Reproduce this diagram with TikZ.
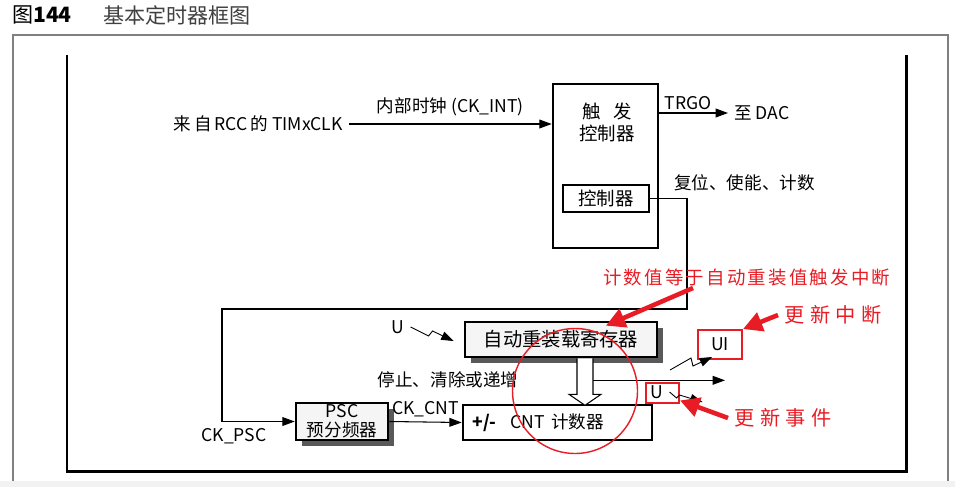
\documentclass[tikz,border=0pt]{standalone}
\usepackage{fontspec}
\setmainfont{Noto Sans CJK SC}
\newfontfamily\hand{Noto Sans CJK SC}[LetterSpace=28]
\newfontfamily\handtight{Noto Sans CJK SC}[LetterSpace=12]
\usetikzlibrary{arrows.meta, positioning, shadows}
\definecolor{noteRed}{RGB}{232,28,36}
\tikzset{
    rim/.style={line width=1.7pt},
    blk/.style={draw, line width=1.5pt, fill=white, inner sep=0pt, align=center},
    shbox/.style={blk, fill=gray!8, drop shadow={shadow xshift=3.2pt, shadow yshift=-3.2pt, fill=black!65, opacity=1}},
    arrow/.style={-{Triangle[length=7pt,width=5pt]}, line width=0.6pt},
    zap/.style={-{Triangle[length=7pt,width=5pt]}, line width=0.5pt},
    note/.style={text=noteRed, font=\hand\fontsize{11.5}{13}\selectfont},
    redarrow/.style={-{Triangle[length=11pt,width=11pt]}, line width=2.6pt, noteRed},
    redbox/.style={draw=noteRed, line width=1.1pt, inner sep=0pt}
}

\begin{document}
\begin{tikzpicture}[x=0.02cm, y=-0.02cm, font=\fontsize{10}{12}\selectfont]
    \useasboundingbox (0,0) rectangle (955,487);
    \fill[gray!10] (0,481) rectangle (955,487);
    % title and frames
    \node[anchor=west, font=\fontsize{12}{14}\selectfont] (fig) at (6,15) {图\textbf{144}};
    \node[anchor=west, font=\fontsize{12}{14}\selectfont, text=black!75] (ttl) at (97,15) {基本定时器框图};
    \draw[gray, line width=0.9pt] (13,481) -- (13,35) -- (948,35) -- (948,481);
    \draw[rim] (67,55) -- (67,471) -- (906,471) -- (906,55);

    \node[blk, minimum width=2.1cm, minimum height=3.28cm] (trig) at (605.5,166) {};
    \node[font=\fontsize{10.5}{12.5}\selectfont, align=center] (trigtxt) at (607,122) {触\hspace{0.7em}发\\控制器};
    \node[blk, minimum width=1.72cm, minimum height=0.54cm, font=\fontsize{10.5}{12}\selectfont] (ctl) at (606,198.5) {控制器};
    \node[shbox, minimum width=3.84cm, minimum height=0.7cm, font=\fontsize{11}{12}\selectfont] (rld) at (561,339.5) {自动重装载寄存器};
    \node[shbox, minimum width=1.84cm, minimum height=0.74cm, font=\fontsize{10}{11}\selectfont] (psc) at (342,421.5) {PSC\\预分频器};
    \node[blk, minimum width=3.78cm, minimum height=0.7cm, text width=3.4cm, align=left, font=\fontsize{10}{12}\selectfont] (cnt) at (557.5,422.5) {\textbf{+/-}\hspace{0.8em}CNT 计数器};

    \node[anchor=east] (src) at (349,124) {来\,自\,RCC\,的 TIMxCLK};
    \draw[arrow] (src.east) -- (src.east -| trig.west) node[midway, above=1pt] {内部时钟 (CK\_INT)};
    \node[anchor=west] (dac) at (728,113) {至 DAC};
    \draw[arrow] (trig.east |- dac) -- (dac.west) node[pos=0.42, above=-2pt] {TRGO};
    \node[anchor=west] (rst) at (668,183) {复位、使能、计数};

    \coordinate (c1) at (687,309);
    \coordinate (c2) at (222,309);
    \draw[arrow] (ctl.east) -| (c1) -- (c2) |- (psc.west);
    \node (ckpsc) at (234,436) {CK\_PSC};
    \draw[arrow] (psc.east) -- (cnt.west) node[midway, above=-1pt] {CK\_CNT};

    \node (u1) at (398,327) {U};
    \draw[zap] (u1.east) -- ++(18,9) -- ++(4,-5) -- ++(21,10);

    % hollow arrow and update line
    \coordinate (hx) at (585,0);
    \path (rld.south -| hx) coordinate (ha);
    \draw[line width=0.6pt, fill=white] (ha) ++(-8,0) -- ++(0,36) -- ++(-8,0) -- ++(16,11) -- ++(16,-11) -- ++(-8,0) -- ++(0,-36);
    \node (stop) at (448,380) {停止、清除或递增};
    \draw[arrow] (ha) ++(8,22) -- ++(132,0) coordinate (uend);

    \node[redbox, minimum width=0.88cm, minimum height=0.58cm] (ui) at (720,344.5) {UI};
    \coordinate (z1) at (670,370);
    \draw[zap] (z1) -- ++(21,-12) -- ++(2,8) -- ++(19,-9);
    \node[redbox, minimum width=0.66cm, minimum height=0.4cm] (u2box) at (662.5,393) {};
    \node (u2) at (657,392) {U};
    \draw[zap] (u2.east) -- ++(7,6) -- ++(3,-3) -- ++(23,7);

    % annotations
    \node[draw=noteRed, circle, minimum size=2.5cm, line width=0.8pt] (ring) at (575,391) {};
    \node[note, anchor=west, font=\handtight\fontsize{10.5}{12}\selectfont] (n1) at (597,277) {计数值等于自动重装值触发中断};
    \node[note, anchor=west] (n2) at (778,315) {更新中断};
    \node[note, anchor=west] (n3) at (728,418) {更新事件};
    \coordinate (t1) at (693,288);
    \draw[redarrow] (t1) -- ([xshift=-1.05cm, yshift=-0.1cm]rld.north east);
    \draw[redarrow] (n2.west) -- (ui.north east);
    \draw[redarrow] (n3.west) -- ([yshift=2pt]u2box.south east);
\end{tikzpicture}
\end{document}
